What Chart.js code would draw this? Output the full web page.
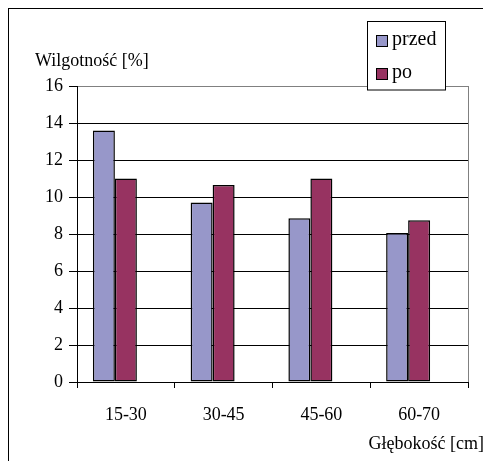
<!DOCTYPE html>
<html>
<head>
<meta charset="utf-8">
<script src="https://cdn.jsdelivr.net/npm/chart.js@4/dist/chart.umd.min.js"></script>
<style>
html,body{margin:0;padding:0;background:#fff;}
#wrap{width:483px;height:461px;position:relative;}
</style>
</head>
<body>
<div id="wrap"><canvas id="c" width="483" height="461"></canvas></div>
<script>
const categories = ['15-30', '30-45', '45-60', '60-70'];
const przed = [13.6, 9.7, 8.85, 8.05];
const po = [11.0, 10.65, 11.0, 8.75];
const yTicks = [0, 2, 4, 6, 8, 10, 12, 14, 16];
const seriesNames = ['przed', 'po'];
const yTitle = 'Wilgotność [%]';
const xTitle = 'Głębokość [cm]';

const FONT = "'Liberation Serif', serif";
const C_PRZED = '#9797c9';
const C_PO = '#973361';

const decor = {
  id: 'decor',
  beforeDraw(chart) {
    const ctx = chart.ctx;
    ctx.save();
    ctx.fillStyle = '#fff';
    ctx.fillRect(0, 0, chart.width, chart.height);
    ctx.strokeStyle = '#000';
    ctx.lineWidth = 1;
    ctx.strokeRect(8.5, 8.5, chart.width + 10, chart.height + 10);
    ctx.restore();
  },
  afterDraw(chart) {
    const ctx = chart.ctx;
    const a = chart.chartArea;
    ctx.save();
    ctx.strokeStyle = '#808080';
    ctx.lineWidth = 1;
    ctx.beginPath();
    ctx.moveTo(Math.round(a.right) + 0.5, a.top);
    ctx.lineTo(Math.round(a.right) + 0.5, a.bottom);
    ctx.stroke();
    ctx.fillStyle = '#000';
    ctx.font = '18px ' + FONT;
    ctx.textBaseline = 'alphabetic';
    ctx.textAlign = 'left';
    ctx.fillText(yTitle, 35, 66);
    ctx.textAlign = 'right';
    ctx.fillText(xTitle, 484, 449);
    const lx = 367.5, ly = 21.5, lw = 78, lh = 68.5;
    ctx.fillStyle = '#fff';
    ctx.fillRect(lx, ly, lw, lh);
    ctx.strokeStyle = '#000';
    ctx.strokeRect(lx, ly, lw, lh);
    const ds = chart.data.datasets;
    const ys = [41, 74];
    ctx.font = '20px ' + FONT;
    ctx.textAlign = 'left';
    ctx.textBaseline = 'middle';
    for (let i = 0; i < 2; i++) {
      ctx.fillStyle = ds[i].backgroundColor;
      ctx.fillRect(376, ys[i] - 6, 12, 12);
      ctx.strokeStyle = '#000';
      ctx.strokeRect(376.5, ys[i] - 5.5, 11, 11);
      ctx.fillStyle = '#000';
      ctx.fillText(ds[i].label, 392, ys[i] - 1);
    }
    ctx.restore();
  }
};

new Chart(document.getElementById('c'), {
  type: 'bar',
  data: {
    labels: categories,
    datasets: [
      { label: seriesNames[0], data: przed, backgroundColor: C_PRZED, borderColor: '#000', borderWidth: 1.5, borderSkipped: false },
      { label: seriesNames[1], data: po, backgroundColor: C_PO, borderColor: '#000', borderWidth: 1.5, borderSkipped: false },
      { label: '', data: categories.map(() => null), backgroundColor: 'rgba(0,0,0,0)' }
    ]
  },
  options: {
    responsive: false,
    animation: false,
    devicePixelRatio: 1,
    layout: { padding: { top: 86, right: 15, left: 0, bottom: 0 } },
    categoryPercentage: 0.675,
    barPercentage: 1.0,
    plugins: { legend: { display: false }, tooltip: { enabled: false } },
    scales: {
      x: {
        offset: true,
        grid: { offset: true, drawOnChartArea: false, drawTicks: true, tickLength: 6, color: '#000' },
        border: { color: '#000', width: 1 },
        ticks: { color: '#000', font: { family: FONT, size: 18 }, padding: 16, maxRotation: 0 },
        afterFit(scale) { scale.height = 79; }
      },
      y: {
        min: 0, max: 16,
        afterBuildTicks(scale) { scale.ticks = yTicks.map(v => ({ value: v })); },
        grid: {
          color: (c) => (c.tick && c.tick.value === 16) ? '#808080' : '#000',
          tickColor: '#000',
          tickLength: 8,
          drawTicks: true
        },
        border: { color: '#000', width: 1 },
        ticks: { color: '#000', font: { family: FONT, size: 18 }, padding: 6 },
        afterFit(scale) { scale.width = 77; }
      }
    }
  },
  plugins: [decor]
});
</script>
</body>
</html>
